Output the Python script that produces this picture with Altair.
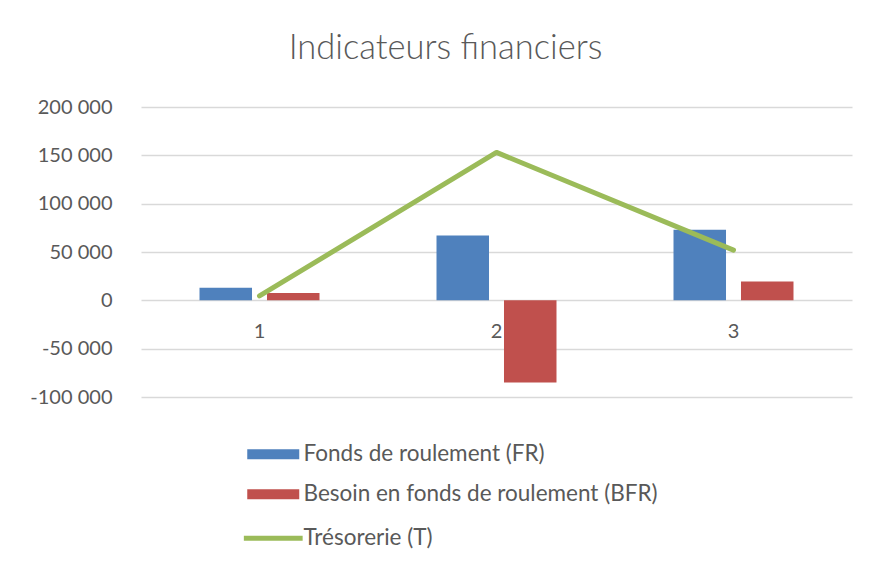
import altair as alt
import pandas as pd

categories = ["1", "2", "3"]
fr_values = [13000, 67000, 73000]
bfr_values = [7500, -85000, 19500]
tresorerie_values = [4500, 153000, 52000]
y_ticks = [-100000, -50000, 0, 50000, 100000, 150000, 200000]

fr_name = "Fonds de roulement (FR)"
bfr_name = "Besoin en fonds de roulement (BFR)"
t_name = "Trésorerie (T)"

bars_df = pd.DataFrame(
    [{"cat": c, "serie": fr_name, "value": v} for c, v in zip(categories, fr_values)]
    + [{"cat": c, "serie": bfr_name, "value": v} for c, v in zip(categories, bfr_values)]
)
line_df = pd.DataFrame({"cat": categories, "serie": t_name, "value": tresorerie_values})
label_df = pd.DataFrame({"cat": categories})

FONT = "Lato"
GREY = "#595959"

x_enc = alt.X("cat:N", sort=categories, axis=None,
              scale=alt.Scale(paddingInner=0, paddingOuter=0))
y_scale = alt.Scale(domain=[-100000, 200000], nice=False, zero=False)
y_axis = alt.Axis(
    values=y_ticks, title=None, domain=False, ticks=False,
    labelExpr="(datum.value < 0 ? '-' : '') + replace(format(abs(datum.value), ',d'), regexp(',', 'g'), ' ')",
    labelFont=FONT, labelFontSize=20, labelColor=GREY, labelPadding=29,
    gridColor="#d9d9d9", gridWidth=1.3,
)

bars = alt.Chart(bars_df).mark_bar().encode(
    x=x_enc,
    xOffset=alt.XOffset("serie:N", sort=[fr_name, bfr_name],
                        scale=alt.Scale(paddingInner=0.222, paddingOuter=0.867)),
    y=alt.Y("value:Q", scale=y_scale, axis=y_axis),
    color=alt.Color(
        "serie:N",
        scale=alt.Scale(domain=[fr_name, bfr_name], range=["#4F81BD", "#C0504D"]),
        legend=alt.Legend(
            orient="none", legendX=121, legendY=336, title=None,
            symbolType="M-4.333,-0.833H4.333V0.833H-4.333Z", symbolSize=144,
            symbolStrokeWidth=0, labelOffset=19, rowPadding=17, labelLimit=0,
            labelFont=FONT, labelFontSize=22.5, labelColor=GREY,
        ),
    ),
)

line = alt.Chart(line_df).mark_line(strokeWidth=5, strokeCap="round", strokeJoin="round").encode(
    x=x_enc,
    y=alt.Y("value:Q", scale=y_scale, axis=y_axis),
    stroke=alt.Stroke(
        "serie:N",
        scale=alt.Scale(domain=[t_name], range=["#9BBB59"]),
        legend=alt.Legend(
            orient="none", legendX=121, legendY=420, title=None,
            symbolType="M-4.9,0H4.9", symbolSize=144, symbolStrokeWidth=5,
            labelOffset=19, labelLimit=0,
            labelFont=FONT, labelFontSize=22.5, labelColor=GREY,
        ),
    ),
)

labels = alt.Chart(label_df).mark_text(
    font=FONT, fontSize=20, color=GREY, baseline="middle", dy=32
).encode(
    x=x_enc,
    y=alt.datum(0),
    text="cat:N",
)

chart = alt.layer(bars, line, labels).resolve_scale(y="shared").properties(
    width=711,
    height=290,
    autosize=alt.AutoSizeParams(type="none"),
    padding={"left": 133, "top": 99, "right": 10, "bottom": 160},
    title=alt.TitleParams(
        "Indicateurs financiers", font=FONT, fontSize=34.5, fontWeight=300,
        color=GREY, anchor="middle", dx=-51, baseline="alphabetic", offset=4,
    ),
).configure(background="white").configure_view(stroke=None)

chart.save("out.html", embed_options={"renderer": "svg", "actions": False})
